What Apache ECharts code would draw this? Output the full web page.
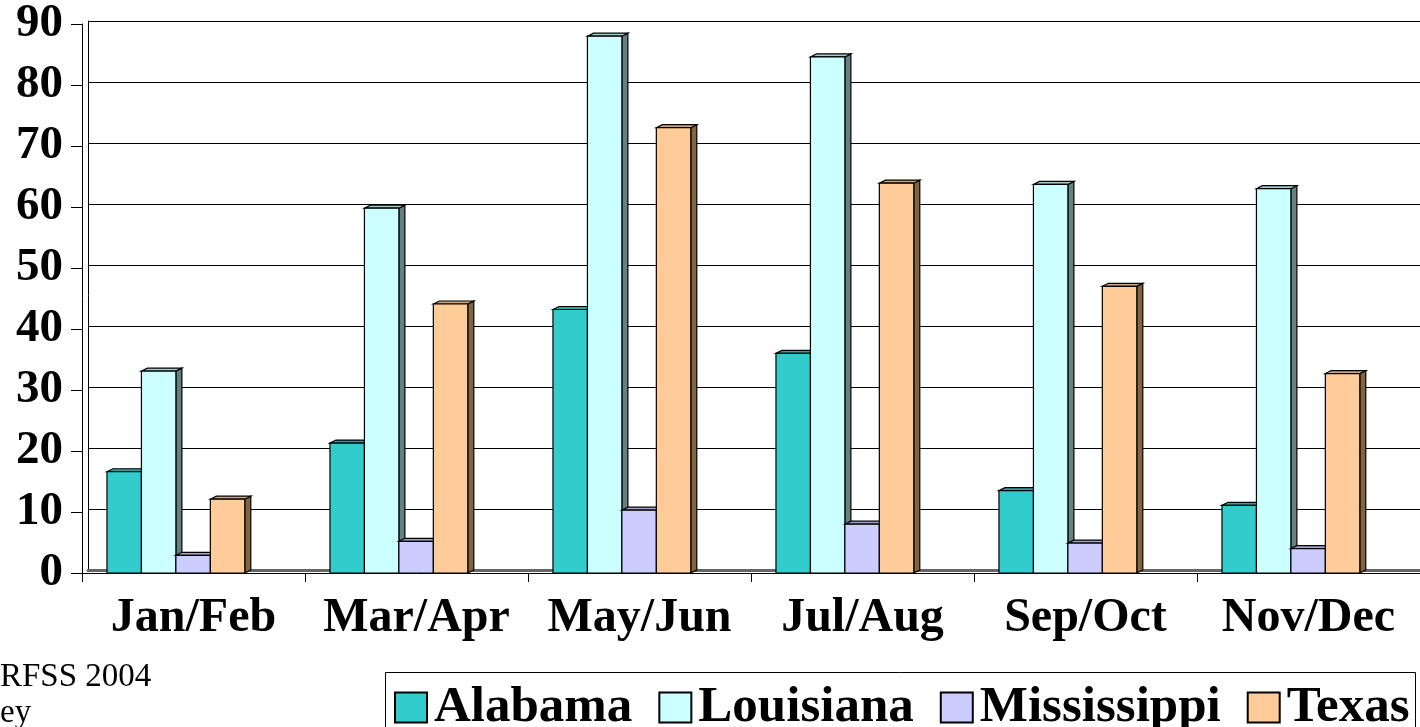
<!DOCTYPE html>
<html>
<head>
<meta charset="utf-8">
<script src="https://cdn.jsdelivr.net/npm/echarts@6/dist/echarts.min.js"></script>
<style>html,body{margin:0;padding:0;background:#fff;}#c{width:1420px;height:727px;}</style>
</head>
<body>
<div id="c"></div>
<script>
var categories = ['Jan/Feb', 'Mar/Apr', 'May/Jun', 'Jul/Aug', 'Sep/Oct', 'Nov/Dec'];
var alabama     = [16.6, 21.3, 43.2, 36.0, 13.5, 11.1];
var louisiana   = [33.1, 59.8, 88.0, 84.6, 63.7, 63.0];
var mississippi = [2.9, 5.2, 10.3, 8.0, 4.9, 4.0];
var texas       = [12.1, 44.1, 73.0, 63.9, 47.0, 32.7];
var seriesNames = ['Alabama', 'Louisiana', 'Mississippi', 'Texas'];
var yTicks = [0, 10, 20, 30, 40, 50, 60, 70, 80, 90];
var noteLines = ['RFSS 2004', 'ey'];

var allValues = [alabama, louisiana, mississippi, texas];
var faceColors = [
  {front: '#33CCCC', side: '#1A6666', top: '#29A3A3'},
  {front: '#CCFFFF', side: '#668080', top: '#A3CCCC'},
  {front: '#CCCCFF', side: '#666680', top: '#A3A3CC'},
  {front: '#FFCC99', side: '#806640', top: '#CCA37A'}
];
var FONT = '"Liberation Serif", "Times New Roman", serif';

function makeRender(si) {
  var c = faceColors[si];
  return function (params, api) {
    var cat = api.value(0), val = api.value(1);
    var base = api.coord([cat, 0]);
    var top = api.coord([cat, val]);
    var band = api.size([1, 0])[0];
    var start = base[0] - band / 2;
    var w = band * 0.1545;
    var x = start + band * 0.112 + si * w;
    var dx = 6, dy = 3;
    var ty = top[1], by = base[1];
    var stroke = {stroke: '#000', lineWidth: 1.2};
    return {
      type: 'group',
      children: [
        {type: 'polygon', shape: {points: [[x + w, ty], [x + w + dx, ty - dy], [x + w + dx, by - dy], [x + w, by]]},
          style: Object.assign({fill: c.side}, stroke)},
        {type: 'polygon', shape: {points: [[x, ty], [x + dx, ty - dy], [x + w + dx, ty - dy], [x + w, ty]]},
          style: Object.assign({fill: c.top}, stroke)},
        {type: 'rect', shape: {x: x, y: ty, width: w, height: by - ty},
          style: Object.assign({fill: c.front}, stroke)}
      ]
    };
  };
}

var series = seriesNames.map(function (name, si) {
  return {
    name: name,
    type: 'custom',
    xAxisIndex: 0,
    yAxisIndex: 0,
    itemStyle: {color: faceColors[si].front, borderColor: '#000', borderWidth: 1},
    encode: {x: 0, y: 1},
    renderItem: makeRender(si),
    data: allValues[si].map(function (v, i) { return [i, v]; })
  };
});

var chart = echarts.init(document.getElementById('c'));
chart.setOption({
  backgroundColor: '#fff',
  animation: false,
  grid: [
    {left: 82, right: 0, top: 24, bottom: 154},
    {left: 88, right: 0, top: 21, bottom: 157}
  ],
  xAxis: [
    {type: 'category', gridIndex: 0, data: categories,
      axisLine: {lineStyle: {color: '#000', width: 1}},
      axisTick: {show: true, interval: 0, length: 9, lineStyle: {color: '#000'}},
      axisLabel: {interval: 0, fontFamily: FONT, fontWeight: 'bold', fontSize: 48, color: '#000', margin: 22},
      splitLine: {show: false}},
    {type: 'category', gridIndex: 1, data: categories,
      axisLine: {lineStyle: {color: '#666', width: 3}},
      axisTick: {show: false}, axisLabel: {show: false}, splitLine: {show: false}}
  ],
  yAxis: [
    {type: 'value', gridIndex: 0, min: 0, max: 90, interval: 10,
      axisLine: {show: true, lineStyle: {color: '#000'}},
      axisTick: {show: true, length: 11, lineStyle: {color: '#000'}},
      axisLabel: {fontFamily: FONT, fontWeight: 'bold', fontSize: 47, color: '#000', margin: 19,
        formatter: function (v) { return yTicks.indexOf(v) >= 0 ? String(v) : ''; }},
      splitLine: {show: false}},
    {type: 'value', gridIndex: 1, min: 0, max: 90, interval: 10,
      axisLine: {show: true, lineStyle: {color: '#000'}},
      axisTick: {show: false}, axisLabel: {show: false},
      splitLine: {show: true, lineStyle: {color: '#000', width: 1}}}
  ],
  legend: {
    left: 389, top: 677,
    itemWidth: 32, itemHeight: 30, itemGap: 26,
    icon: 'rect',
    data: seriesNames,
    textStyle: {fontFamily: FONT, fontWeight: 'bold', fontSize: 51, color: '#000', padding: [0, 0, 0, 2]}
  },
  graphic: [
    {type: 'rect', left: 383, top: 670, shape: {width: 1030, height: 80},
      style: {fill: 'none', stroke: '#000', lineWidth: 1}, z: -1},
    {type: 'text', left: 0, top: 661, style: {text: noteLines[0], font: '33px ' + FONT, fill: '#000'}},
    {type: 'text', left: 0, top: 697, style: {text: noteLines[1], font: '33px ' + FONT, fill: '#000'}}
  ],
  series: series
});
</script>
</body>
</html>
